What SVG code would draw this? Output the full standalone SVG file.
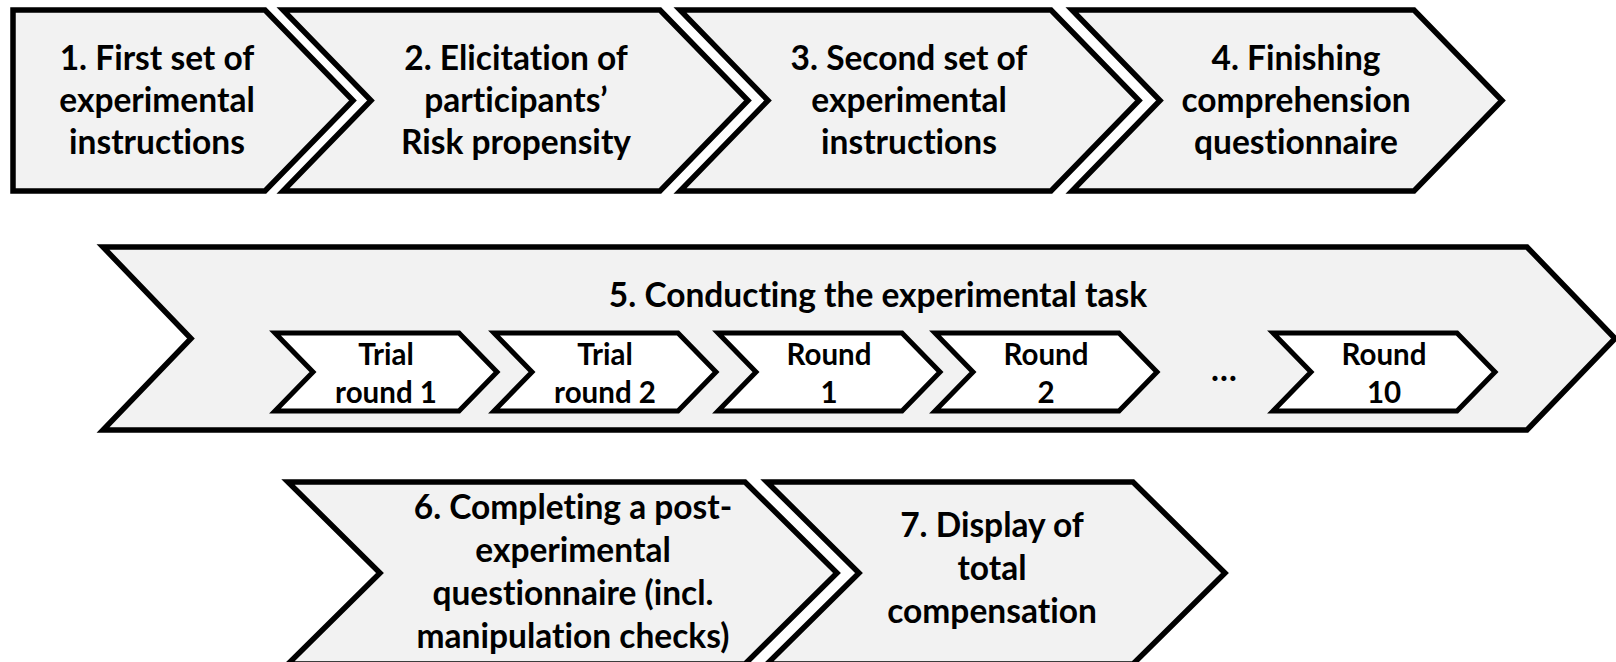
<svg xmlns="http://www.w3.org/2000/svg" xmlns:xlink="http://www.w3.org/1999/xlink" width="1616" height="662" viewBox="0 0 1616 662">
<style>
.big{fill:#f2f2f2;stroke:#000;stroke-width:5.5;stroke-linejoin:miter}
.mini{fill:#fff;stroke:#000;stroke-width:5;stroke-linejoin:miter}
.t{font-family:Lato,"Liberation Sans",sans-serif;font-weight:bold;font-size:33.5px;fill:#000;text-anchor:middle;font-variant-ligatures:none;font-feature-settings:"liga" 0,"clig" 0}
.s{font-family:Lato,"Liberation Sans",sans-serif;font-weight:bold;font-size:29.5px;fill:#000;text-anchor:middle;font-variant-ligatures:none;font-feature-settings:"liga" 0,"clig" 0}
</style>
<defs>
<polygon id="chev" points="0,0 184,0 222,39 184,78 0,78 38,39"/>
</defs>
<rect width="1616" height="662" fill="#fff"/>
<g id="connectors"/>
<g id="step1">
<polygon class="big" points="13,10 265,10 353,100.5 265,191 13,191"/>
<text class="t" x="157" y="70">1. First set of</text>
<text class="t" x="157" y="112">experimental</text>
<text class="t" x="157" y="154">instructions</text>
</g>
<g id="step2">
<polygon class="big" points="283,10 660,10 748,100.5 660,191 283,191 371,100.5"/>
<text class="t" x="516" y="70">2. Elicitation of</text>
<text class="t" x="516" y="112">participants’</text>
<text class="t" x="516" y="154">Risk propensity</text>
</g>
<g id="step3">
<polygon class="big" points="680,10 1051,10 1139,100.5 1051,191 680,191 768,100.5"/>
<text class="t" x="909" y="70">3. Second set of</text>
<text class="t" x="909" y="112">experimental</text>
<text class="t" x="909" y="154">instructions</text>
</g>
<g id="step4">
<polygon class="big" points="1072,10 1414,10 1502,100.5 1414,191 1072,191 1160,100.5"/>
<text class="t" x="1296" y="70">4. Finishing</text>
<text class="t" x="1296" y="112">comprehension</text>
<text class="t" x="1296" y="154">questionnaire</text>
</g>
<g id="step5">
<polygon class="big" points="103,247 1527,247 1615,338.5 1527,430 103,430 191,338.5"/>
<text class="t" x="878" y="307">5. Conducting the experimental task</text>
</g>
<g id="trial1">
<use xlink:href="#chev" class="mini" x="275" y="333"/>
<text class="s" x="386" y="365">Trial</text>
<text class="s" x="386" y="403">round 1</text>
</g>
<g id="trial2">
<use xlink:href="#chev" class="mini" x="494" y="333"/>
<text class="s" x="605" y="365">Trial</text>
<text class="s" x="605" y="403">round 2</text>
</g>
<g id="round1">
<use xlink:href="#chev" class="mini" x="718" y="333"/>
<text class="s" x="829" y="365">Round</text>
<text class="s" x="829" y="403">1</text>
</g>
<g id="round2">
<use xlink:href="#chev" class="mini" x="935" y="333"/>
<text class="s" x="1046" y="365">Round</text>
<text class="s" x="1046" y="403">2</text>
</g>
<g id="ellipsis">
<text class="t" x="1224" y="381">…</text>
</g>
<g id="round10">
<use xlink:href="#chev" class="mini" x="1273" y="333"/>
<text class="s" x="1384" y="365">Round</text>
<text class="s" x="1384" y="403">10</text>
</g>
<g id="step6">
<polygon class="big" points="288,482 745,482 837,573 745,664 288,664 380,573"/>
<text class="t" x="573" y="519">6. Completing a post-</text>
<text class="t" x="573" y="562">experimental</text>
<text class="t" x="573" y="605">questionnaire (incl.</text>
<text class="t" x="573" y="648">manipulation checks)</text>
</g>
<g id="step7">
<polygon class="big" points="767,482 1133,482 1225,573 1133,664 767,664 859,573"/>
<text class="t" x="992" y="537">7. Display of</text>
<text class="t" x="992" y="580">total</text>
<text class="t" x="992" y="623">compensation</text>
</g>
</svg>
